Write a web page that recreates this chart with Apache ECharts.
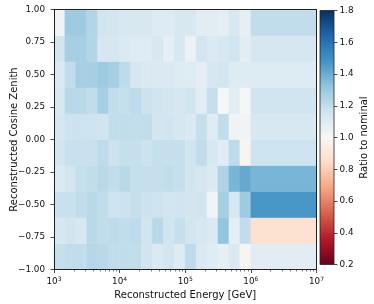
<!DOCTYPE html>
<html><head><meta charset="utf-8">
<script src="https://cdn.jsdelivr.net/npm/echarts@6/dist/echarts.min.js"></script>
<style>html,body{margin:0;padding:0;background:#fff}#c{width:374px;height:304px}</style>
</head><body><div id="c"></div>
<script>
// Bin edges (energy in GeV, cosine zenith)
const xEdges = [1000, 1468, 2154, 3162, 4642, 6813, 10000, 14678, 21544, 31623, 46416, 68129,
                100000, 146780, 215440, 316230, 464160, 681290, 1000000, 10000000];
const yEdges = [-1, -0.8, -0.6, -0.4, -0.2, 0, 0.2, 0.4, 0.6, 0.8, 1];

// Ratio to nominal, one array per cos-zenith row (bottom to top), one value per energy bin
const row_m100_m080 = [1.19,1.20,1.20,1.23,1.22,1.20,1.20,1.20,1.16,1.12,1.15,1.11,1.21,1.12,1.10,1.07,1.12,0.99,1.09];
const row_m080_m060 = [1.14,1.16,1.13,1.22,1.20,1.21,1.20,1.21,1.16,1.22,1.16,1.19,1.15,1.13,1.12,1.32,1.08,1.20,0.87];
const row_m060_m040 = [1.18,1.18,1.20,1.22,1.20,1.17,1.17,1.19,1.17,1.17,1.16,1.16,1.15,1.16,1.03,1.27,1.14,1.29,1.47];
const row_m040_m020 = [1.12,1.15,1.19,1.20,1.22,1.20,1.22,1.19,1.19,1.19,1.20,1.19,1.16,1.14,1.12,1.25,1.37,1.41,1.37];
const row_m020_p000 = [1.15,1.18,1.18,1.18,1.21,1.17,1.19,1.19,1.17,1.19,1.19,1.19,1.16,1.20,1.13,1.10,1.21,0.98,1.17];
const row_p000_p020 = [1.14,1.17,1.17,1.17,1.16,1.20,1.20,1.20,1.20,1.15,1.16,1.14,1.12,1.19,1.10,1.20,1.04,1.03,1.13];
const row_p020_p040 = [1.13,1.22,1.22,1.20,1.27,1.20,1.19,1.21,1.17,1.16,1.15,1.14,1.16,1.09,1.19,1.01,1.09,1.01,1.16];
const row_p040_p060 = [1.12,1.20,1.27,1.27,1.29,1.27,1.21,1.14,1.12,1.12,1.12,1.11,1.11,1.08,1.14,1.15,1.11,1.11,1.11];
const row_p060_p080 = [1.15,1.27,1.27,1.24,1.14,1.14,1.12,1.11,1.11,1.13,1.08,1.13,1.05,1.15,1.12,1.13,1.16,1.09,1.14];
const row_p080_p100 = [1.03,1.29,1.29,1.24,1.16,1.15,1.13,1.13,1.13,1.11,1.11,1.13,1.13,1.09,1.09,1.08,1.13,1.07,1.20];
const rows = [row_m100_m080,row_m080_m060,row_m060_m040,row_m040_m020,row_m020_p000,
              row_p000_p020,row_p020_p040,row_p040_p060,row_p060_p080,row_p080_p100];

// Ticks
const xMajorTicks = [1e3, 1e4, 1e5, 1e6, 1e7];
const xMinorTicks = [];
for (let d = 3; d < 7; d++) for (let m = 2; m <= 9; m++) xMinorTicks.push(m * Math.pow(10, d));
const cbMin = 0.2, cbMax = 1.8, cbStep = 0.2;

// RdBu colormap (low -> high)
const rdbu = ['#67001f','#b2182b','#d6604d','#f4a582','#fddbc7','#f7f7f7','#d1e5f0','#92c5de','#4393c3','#2166ac','#053061'];

const cells = [];
rows.forEach((r, i) => r.forEach((v, j) => cells.push([xEdges[j], xEdges[j+1], yEdges[i], yEdges[i+1], v])));

const FONT = 'DejaVu Sans';
const TXT = '#111';
const LINE = '#222';
const TICK_FS = 8.8;
const LABEL_FS = 10;
const fmtMinus = s => s.replace('-', '\u2212');

const chart = echarts.init(document.getElementById('c'), null, {renderer: 'canvas'});
chart.setOption({
  animation: false,
  backgroundColor: '#fff',
  textStyle: {fontFamily: FONT},
  grid: [
    {left: 54, top: 9.5, width: 262.5, height: 260, containLabel: false, outerBoundsMode: 'none'},
    {left: 320, top: 10.5, width: 14, height: 254, containLabel: false, outerBoundsMode: 'none'}
  ],
  visualMap: [{
    type: 'continuous', show: false, seriesIndex: 0, dimension: 4,
    min: cbMin, max: cbMax, inRange: {color: rdbu}
  }],
  xAxis: [
    {gridIndex: 0, type: 'log', logBase: 10, min: 1e3, max: 1e7, position: 'bottom', z: 10,
     name: 'Reconstructed Energy [GeV]', nameLocation: 'middle', nameGap: 20,
     nameTextStyle: {fontSize: LABEL_FS, color: TXT, fontFamily: FONT},
     axisLine: {show: true, onZero: false, lineStyle: {color: LINE, width: 1}},
     axisTick: {show: true, customValues: xMajorTicks, length: 3.5, lineStyle: {color: LINE, width: 0.8}},
     axisLabel: {customValues: xMajorTicks, margin: 6.5, color: TXT, fontSize: TICK_FS, fontFamily: FONT,
       formatter: v => '10{s|' + Math.round(Math.log10(v)) + '}',
       rich: {s: {fontSize: 6, fontFamily: FONT, color: TXT, padding: [0, 0, 5, 0]}}},
     splitLine: {show: false}, minorTick: {show: false}},
    {gridIndex: 0, type: 'log', logBase: 10, min: 1e3, max: 1e7, position: 'bottom', z: 10,
     axisLine: {show: false, onZero: false},
     axisTick: {show: true, customValues: xMinorTicks, length: 2, lineStyle: {color: LINE, width: 0.6}},
     axisLabel: {show: false}, splitLine: {show: false}},
    {gridIndex: 0, type: 'log', logBase: 10, min: 1e3, max: 1e7, position: 'top', z: 10,
     axisLine: {show: true, onZero: false, lineStyle: {color: LINE, width: 1}},
     axisTick: {show: false}, axisLabel: {show: false}, splitLine: {show: false}},
    {gridIndex: 1, type: 'value', min: 0, max: 1, show: false}
  ],
  yAxis: [
    {gridIndex: 0, type: 'value', min: -1, max: 1, interval: 0.25, position: 'left', z: 10,
     name: 'Reconstructed Cosine Zenith', nameLocation: 'middle', nameGap: 34.5, nameMoveOverlap: false,
     nameTextStyle: {fontSize: LABEL_FS, color: TXT, fontFamily: FONT},
     axisLine: {show: true, onZero: false, lineStyle: {color: LINE, width: 1}},
     axisTick: {show: true, length: 3.5, lineStyle: {color: LINE, width: 0.8}},
     axisLabel: {margin: 9, color: TXT, fontSize: TICK_FS, fontFamily: FONT,
       formatter: v => fmtMinus(v.toFixed(2))},
     splitLine: {show: false}},
    {gridIndex: 0, type: 'value', min: -1, max: 1, position: 'right', z: 10,
     axisLine: {show: true, onZero: false, lineStyle: {color: LINE, width: 1}},
     axisTick: {show: false}, axisLabel: {show: false}, splitLine: {show: false}},
    {gridIndex: 1, type: 'value', min: cbMin, max: cbMax, interval: cbStep, position: 'right', z: 10,
     name: 'Ratio to nominal', nameLocation: 'middle', nameGap: 25,
     nameTextStyle: {fontSize: LABEL_FS, color: TXT, fontFamily: FONT},
     axisLine: {show: false, onZero: false},
     axisTick: {show: true, length: 3.5, lineStyle: {color: LINE, width: 0.8}},
     axisLabel: {margin: 5.5, color: TXT, fontSize: TICK_FS, fontFamily: FONT,
       formatter: v => v.toFixed(1)},
     splitLine: {show: false}}
  ],
  series: [
    {type: 'custom', xAxisIndex: 0, yAxisIndex: 0, data: cells, encode: {x: [0, 1], y: [2, 3]},
     renderItem: function (params, api) {
       const p0 = api.coord([api.value(0), api.value(2)]);
       const p1 = api.coord([api.value(1), api.value(3)]);
       const c = api.visual('color');
       return {type: 'rect',
         shape: {x: p0[0], y: p1[1], width: p1[0] - p0[0], height: p0[1] - p1[1]},
         style: {fill: c, stroke: c, lineWidth: 0.6}};
     }},
    {type: 'custom', xAxisIndex: 3, yAxisIndex: 2, data: [[0, 1, cbMin, cbMax]], encode: {x: [0, 1], y: [2, 3]},
     renderItem: function (params, api) {
       const p0 = api.coord([api.value(0), api.value(2)]);
       const p1 = api.coord([api.value(1), api.value(3)]);
       const stops = rdbu.slice().reverse().map((c, i) => ({offset: i / (rdbu.length - 1), color: c}));
       return {type: 'rect',
         shape: {x: p0[0], y: p1[1], width: p1[0] - p0[0], height: p0[1] - p1[1]},
         style: {fill: new echarts.graphic.LinearGradient(0, 0, 0, 1, stops), stroke: LINE, lineWidth: 0.8}};
     }}
  ]
});
</script></body></html>
